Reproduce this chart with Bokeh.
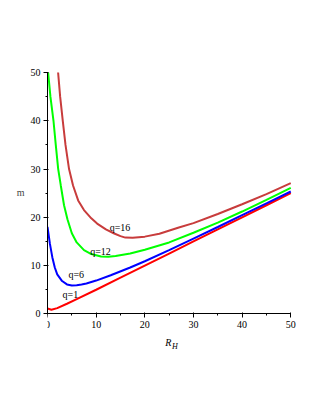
from bokeh.plotting import figure
from bokeh.models import Range1d, SingleIntervalTicker, ColumnDataSource
from bokeh.core.properties import value
from bokeh.embed import file_html
from bokeh.resources import INLINE

# ---- data ----
q1_x = [0, 0.8, 2, 4, 6, 10, 15, 20, 25, 30, 35, 40, 45, 50]
q1_y = [1.1, 0.85, 1.2, 2.1, 3.05, 5.0, 7.5, 10.0, 12.5, 15.0, 17.5, 20.0, 22.5, 25.0]

q6_x = [0, 0.5, 1, 1.5, 2, 3, 4, 5, 6, 7, 8, 10, 13, 17, 20, 25, 30, 35, 40, 45, 50]
q6_y = [18.0, 14.5, 11.7, 9.6, 8.2, 6.8, 6.1, 5.9, 5.95, 6.1, 6.3, 6.9, 8.0, 9.6, 10.9,
        13.2, 15.6, 18.0, 20.45, 22.9, 25.35]

q12_x = [0, 0.13, 0.6, 1.23, 1.7, 2.2, 2.73, 3.4, 4.1, 5, 6, 7.5, 9, 11, 12.5, 14, 17,
         20, 25, 30, 35, 40, 45, 50]
q12_y = [52, 50, 45, 40, 35, 30, 26.6, 22.5, 19.6, 16.7, 14.8, 13.2, 12.4, 11.9, 11.85,
         12.0, 12.5, 13.3, 14.8, 16.8, 18.9, 21.2, 23.6, 26.1]

q16_x = [2.0, 2.18, 2.6, 3.14, 3.7, 4.43, 5.25, 6.3, 7.5, 9, 10.2, 12, 13.6, 15, 16,
         17.5, 20, 23, 27, 30, 35, 40, 45, 50]
q16_y = [52, 50, 45, 40, 35, 30, 26.6, 23.5, 21.5, 19.8, 18.7, 17.5, 16.7, 16.1, 15.8,
         15.75, 16.0, 16.6, 17.9, 18.8, 20.7, 22.7, 24.8, 27.1]

label_x = [4.7, 5.9, 10.9, 14.9]
label_y = [4.0, 8.1, 13.0, 17.8]
label_text = ["q=1", "q=6", "q=12", "q=16"]

x_label = ["R"]
x_label_sub = ["H"]
y_label = "m"

serif = "Liberation Serif"

p = figure(width=310, height=390, output_backend="svg", toolbar_location=None,
           x_range=Range1d(0, 52), y_range=Range1d(-8, 50),
           min_border_left=47, min_border_right=10, min_border_top=72,
           min_border_bottom=38)
p.outline_line_color = None
p.xgrid.visible = False
p.ygrid.visible = False
p.background_fill_color = "white"

for ax in (p.xaxis, p.yaxis):
    ax.ticker = SingleIntervalTicker(interval=10, num_minor_ticks=2)
    ax.bounds = (0, 50)
    ax.major_label_text_font = serif
    ax.major_label_text_font_size = "10px"
    ax.major_label_text_color = "black"
    ax.axis_line_color = "black"
    ax.major_tick_line_color = "black"
    ax.minor_tick_line_color = "black"
    ax.major_tick_out = 4
    ax.major_tick_in = 1
    ax.minor_tick_out = 2
    ax.minor_tick_in = 0
    ax.major_label_standoff = 3

p.xaxis.fixed_location = 0

# extra blank lines lift the upright "m" to the middle of the 0..50 span
p.yaxis.axis_label = y_label + "\n\n\n"
p.yaxis.axis_label_orientation = "horizontal"
p.yaxis.axis_label_text_font = serif
p.yaxis.axis_label_text_font_style = "normal"
p.yaxis.axis_label_text_font_size = "10px"
p.yaxis.axis_label_standoff = 3

w = 2
p.line(q1_x, q1_y, line_color="#FF0000", line_width=w)
p.line(q6_x, q6_y, line_color="#0000FF", line_width=w)
p.line(q12_x, q12_y, line_color="#00FF00", line_width=w)
p.line(q16_x, q16_y, line_color="#C83C3C", line_width=w)

src = ColumnDataSource(dict(x=label_x, y=label_y, t=label_text))
p.text(x="x", y="y", text="t", source=src, text_font=value(serif),
       text_font_size="10px", text_align="center", text_baseline="middle",
       text_color="black")

p.text(x=[24.2], y=[-5.9], text=x_label, text_font=value(serif),
       text_font_size="10px", text_font_style="italic", text_align="left",
       text_baseline="alphabetic", text_color="black")
p.text(x=[25.6], y=[-6.8], text=x_label_sub, text_font=value(serif),
       text_font_size="8px", text_font_style="italic", text_align="left",
       text_baseline="alphabetic", text_color="black")

open("out.html", "w").write(file_html(p, INLINE))
